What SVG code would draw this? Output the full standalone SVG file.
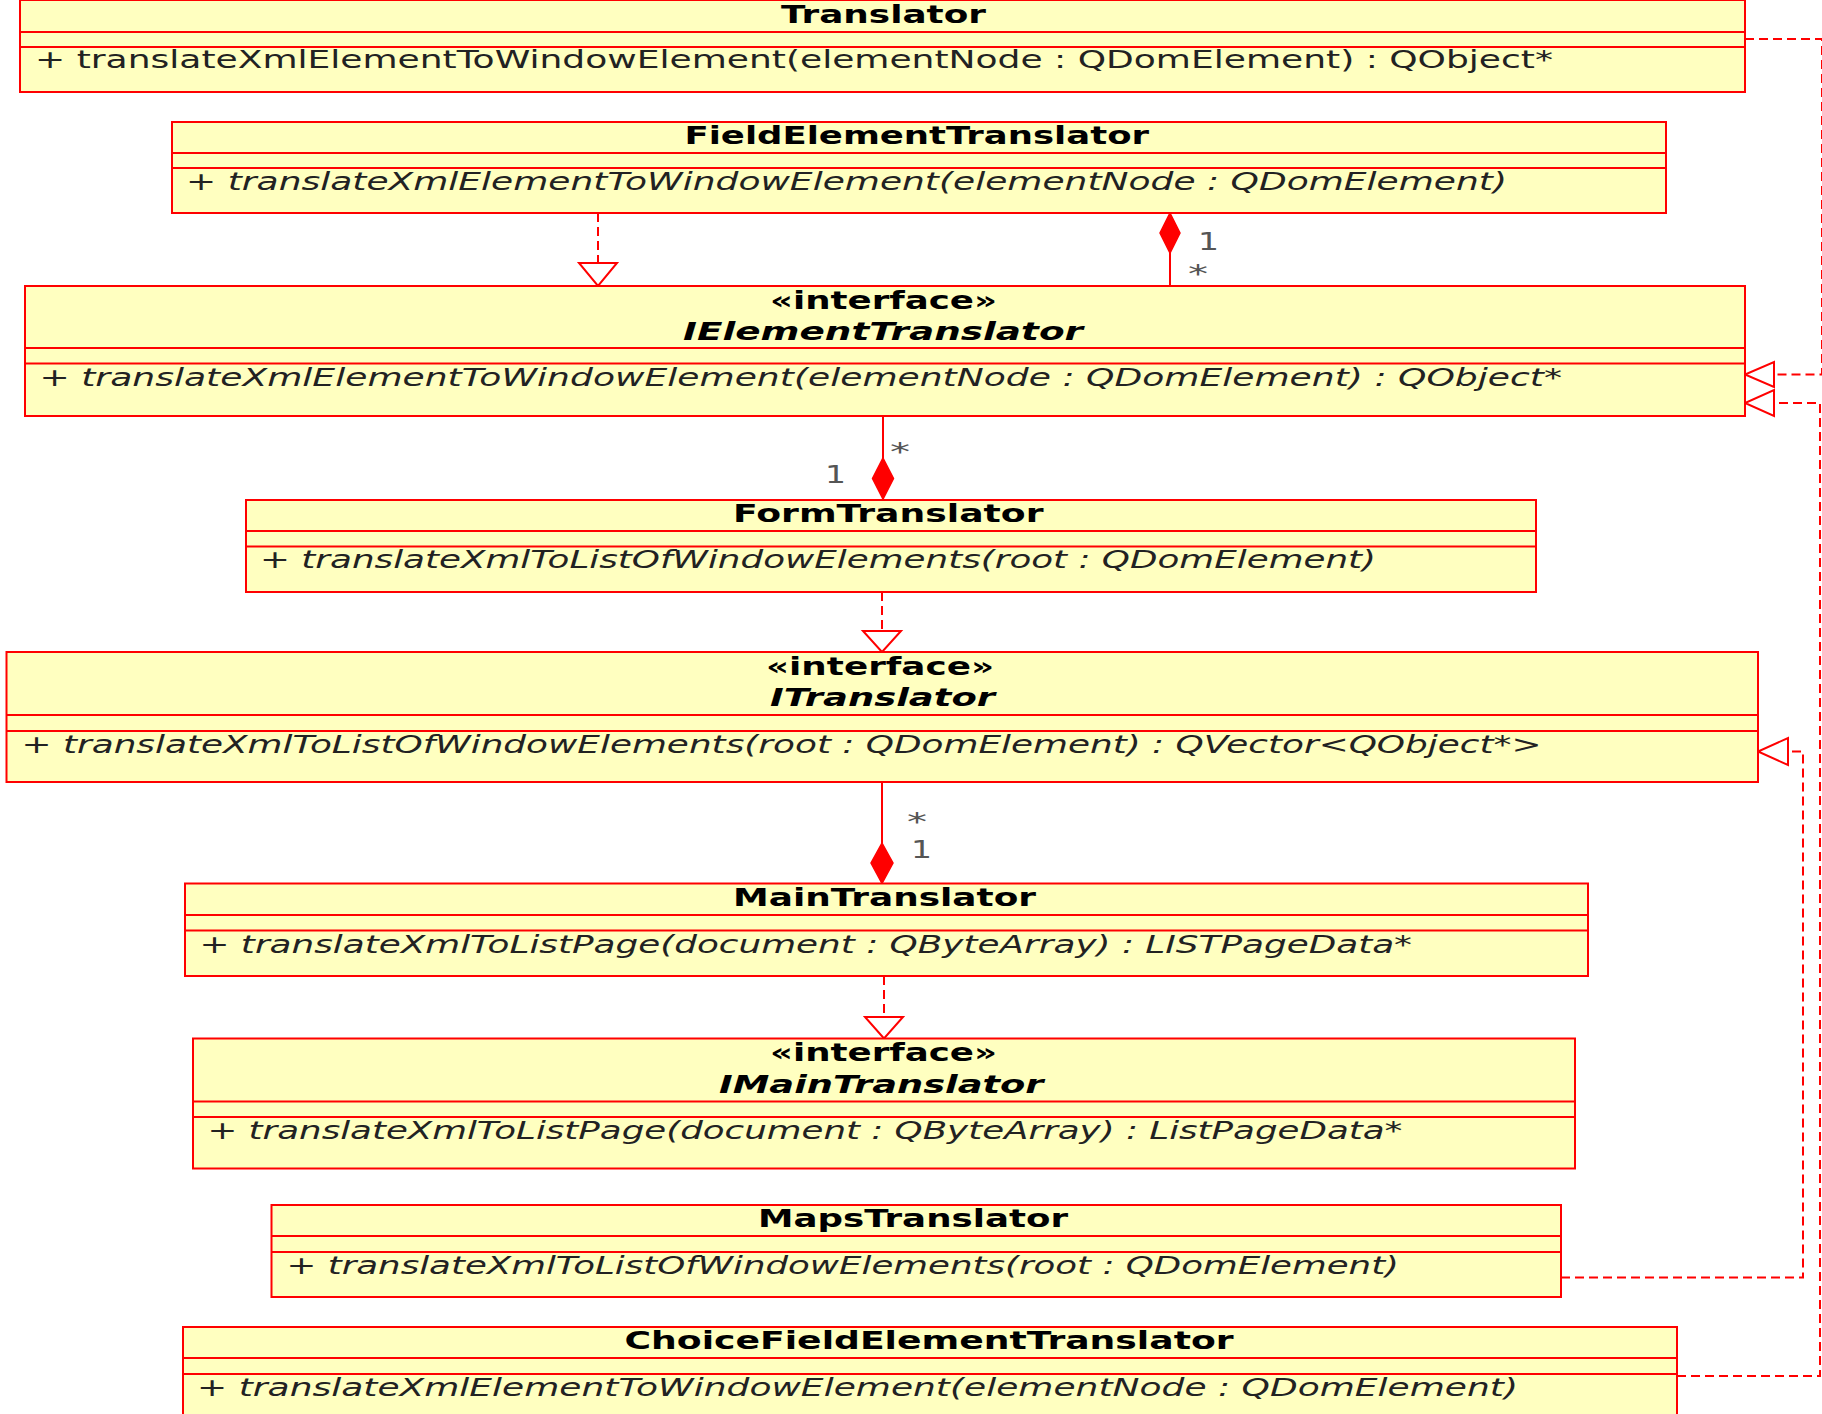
<svg xmlns="http://www.w3.org/2000/svg" width="1822" height="1414" viewBox="0 0 1822 1414">
<style>
  .box { fill: #ffffc0; stroke: #ff0000; stroke-width: 2; }
  .sep { stroke: #ff0000; stroke-width: 2; }
  .title { font-family: "DejaVu Sans", Verdana, sans-serif; font-size: 25px; font-weight: bold; fill: #000; }
  .ititle { font-family: "DejaVu Sans", Verdana, sans-serif; font-size: 25px; font-weight: bold; font-style: italic; fill: #000; }
  .op { font-family: "DejaVu Sans", Verdana, sans-serif; font-size: 25px; fill: #222; }
  .iop { font-family: "DejaVu Sans", Verdana, sans-serif; font-size: 25px; font-style: italic; fill: #222; }
  .dash { fill: none; stroke: #ff0000; stroke-width: 2; stroke-dasharray: 9 5; }
  .solid { fill: none; stroke: #ff0000; stroke-width: 2; }
  .hollow { fill: #ffffff; stroke: #ff0000; stroke-width: 2; }
  .filled { fill: #ff0000; stroke: #ff0000; stroke-width: 1.5; }
  .mult { font-family: "DejaVu Sans", Verdana, sans-serif; font-size: 25px; fill: #555; }
</style>
<rect width="1822" height="1414" fill="#ffffff"/>

<g id="connectors">
  <!-- FieldElementTranslator realizes IElementTranslator -->
  <line class="dash" x1="598" y1="213" x2="598" y2="263"/>
  <polygon class="hollow" points="579,263 617,263 598,286"/>
  <!-- IElementTranslator composed into FieldElementTranslator -->
  <line class="solid" x1="1170" y1="286" x2="1170" y2="253"/>
  <polygon class="filled" points="1170,213 1180,233 1170,253 1160,233"/>
  <text class="mult" x="1198" y="250" textLength="21" lengthAdjust="spacingAndGlyphs">1</text>
  <text class="mult" x="1188" y="282" textLength="20" lengthAdjust="spacingAndGlyphs">*</text>
  <!-- IElementTranslator composed into FormTranslator -->
  <line class="solid" x1="883" y1="416" x2="883" y2="458"/>
  <polygon class="filled" points="883,458 893.5,478.5 883,499 872.5,478.5"/>
  <text class="mult" x="890" y="460" textLength="20" lengthAdjust="spacingAndGlyphs">*</text>
  <text class="mult" x="825" y="483" textLength="21" lengthAdjust="spacingAndGlyphs">1</text>
  <!-- FormTranslator realizes ITranslator -->
  <line class="dash" x1="882" y1="592" x2="882" y2="631"/>
  <polygon class="hollow" points="863,631 901,631 882,652"/>
  <!-- ITranslator composed into MainTranslator -->
  <line class="solid" x1="882" y1="782" x2="882" y2="843"/>
  <polygon class="filled" points="882,843 893,863 882,883.5 871,863"/>
  <text class="mult" x="907" y="830" textLength="20" lengthAdjust="spacingAndGlyphs">*</text>
  <text class="mult" x="911" y="858" textLength="21" lengthAdjust="spacingAndGlyphs">1</text>
  <!-- MainTranslator realizes IMainTranslator -->
  <line class="dash" x1="884" y1="976" x2="884" y2="1017"/>
  <polygon class="hollow" points="865,1017 903,1017 884,1038.5"/>
  <!-- Translator realizes IElementTranslator -->
  <path class="dash" d="M1745,39 H1822 V374.5 H1774"/>
  <polygon class="hollow" points="1774,362 1774,387 1745,374.5"/>
  <!-- ChoiceFieldElementTranslator realizes IElementTranslator -->
  <path class="dash" d="M1677,1376 H1820 V403 H1774"/>
  <polygon class="hollow" points="1774,390 1774,416 1745,403"/>
  <!-- MapsTranslator realizes ITranslator -->
  <path class="dash" d="M1561,1277.5 H1803 V751.5 H1788"/>
  <polygon class="hollow" points="1788,738 1788,765 1758,751.5"/>
</g>

<g id="Translator">
  <rect class="box" x="20" y="0" width="1725" height="92"/>
  <line class="sep" x1="20" y1="32" x2="1745" y2="32"/>
  <line class="sep" x1="20" y1="47" x2="1745" y2="47"/>
  <text class="title" x="781" y="23" textLength="205" lengthAdjust="spacingAndGlyphs">Translator</text>
  <text class="op" x="35" y="68" textLength="1518" lengthAdjust="spacingAndGlyphs">+ translateXmlElementToWindowElement(elementNode : QDomElement) : QObject*</text>
</g>

<g id="FieldElementTranslator">
  <rect class="box" x="172" y="122" width="1494" height="91"/>
  <line class="sep" x1="172" y1="153" x2="1666" y2="153"/>
  <line class="sep" x1="172" y1="168" x2="1666" y2="168"/>
  <text class="title" x="684.5" y="143.5" textLength="464.5" lengthAdjust="spacingAndGlyphs">FieldElementTranslator</text>
  <text class="iop" x="186" y="190" textLength="1321" lengthAdjust="spacingAndGlyphs">+ translateXmlElementToWindowElement(elementNode : QDomElement)</text>
</g>

<g id="IElementTranslator">
  <rect class="box" x="25" y="286" width="1720" height="130"/>
  <line class="sep" x1="25" y1="348" x2="1745" y2="348"/>
  <line class="sep" x1="25" y1="363.5" x2="1745" y2="363.5"/>
  <text class="title" x="770" y="308.5" textLength="227" lengthAdjust="spacingAndGlyphs">«interface»</text>
  <text class="ititle" x="683" y="340" textLength="400" lengthAdjust="spacingAndGlyphs">IElementTranslator</text>
  <text class="iop" x="39.5" y="386" textLength="1522.5" lengthAdjust="spacingAndGlyphs">+ translateXmlElementToWindowElement(elementNode : QDomElement) : QObject*</text>
</g>

<g id="FormTranslator">
  <rect class="box" x="246" y="500" width="1290" height="92"/>
  <line class="sep" x1="246" y1="531" x2="1536" y2="531"/>
  <line class="sep" x1="246" y1="546.5" x2="1536" y2="546.5"/>
  <text class="title" x="733" y="521.5" textLength="310.5" lengthAdjust="spacingAndGlyphs">FormTranslator</text>
  <text class="iop" x="260" y="568" textLength="1116" lengthAdjust="spacingAndGlyphs">+ translateXmlToListOfWindowElements(root : QDomElement)</text>
</g>

<g id="ITranslator">
  <rect class="box" x="6.5" y="652" width="1751.5" height="130"/>
  <line class="sep" x1="6.5" y1="715" x2="1758" y2="715"/>
  <line class="sep" x1="6.5" y1="731" x2="1758" y2="731"/>
  <text class="title" x="766" y="674.5" textLength="228" lengthAdjust="spacingAndGlyphs">«interface»</text>
  <text class="ititle" x="770" y="706" textLength="225" lengthAdjust="spacingAndGlyphs">ITranslator</text>
  <text class="iop" x="21.5" y="752.5" textLength="1520" lengthAdjust="spacingAndGlyphs">+ translateXmlToListOfWindowElements(root : QDomElement) : QVector&lt;QObject*&gt;</text>
</g>

<g id="MainTranslator">
  <rect class="box" x="185" y="883.5" width="1403" height="92.5"/>
  <line class="sep" x1="185" y1="915" x2="1588" y2="915"/>
  <line class="sep" x1="185" y1="930.5" x2="1588" y2="930.5"/>
  <text class="title" x="733" y="905.5" textLength="303" lengthAdjust="spacingAndGlyphs">MainTranslator</text>
  <text class="iop" x="199.5" y="952.5" textLength="1212.5" lengthAdjust="spacingAndGlyphs">+ translateXmlToListPage(document : QByteArray) : LISTPageData*</text>
</g>

<g id="IMainTranslator">
  <rect class="box" x="193" y="1038.5" width="1382" height="130"/>
  <line class="sep" x1="193" y1="1101.5" x2="1575" y2="1101.5"/>
  <line class="sep" x1="193" y1="1117" x2="1575" y2="1117"/>
  <text class="title" x="770" y="1061" textLength="227" lengthAdjust="spacingAndGlyphs">«interface»</text>
  <text class="ititle" x="719" y="1093" textLength="324.5" lengthAdjust="spacingAndGlyphs">IMainTranslator</text>
  <text class="iop" x="207.4" y="1138.5" textLength="1195" lengthAdjust="spacingAndGlyphs">+ translateXmlToListPage(document : QByteArray) : ListPageData*</text>
</g>

<g id="MapsTranslator">
  <rect class="box" x="271.5" y="1205" width="1289.5" height="92"/>
  <line class="sep" x1="271.5" y1="1236" x2="1561" y2="1236"/>
  <line class="sep" x1="271.5" y1="1252" x2="1561" y2="1252"/>
  <text class="title" x="758" y="1226.5" textLength="310" lengthAdjust="spacingAndGlyphs">MapsTranslator</text>
  <text class="iop" x="286.5" y="1273.5" textLength="1112.5" lengthAdjust="spacingAndGlyphs">+ translateXmlToListOfWindowElements(root : QDomElement)</text>
</g>

<g id="ChoiceFieldElementTranslator">
  <rect class="box" x="183" y="1327" width="1494" height="92"/>
  <line class="sep" x1="183" y1="1358" x2="1677" y2="1358"/>
  <line class="sep" x1="183" y1="1374" x2="1677" y2="1374"/>
  <text class="title" x="624.6" y="1348.5" textLength="609" lengthAdjust="spacingAndGlyphs">ChoiceFieldElementTranslator</text>
  <text class="iop" x="197" y="1395.5" textLength="1321" lengthAdjust="spacingAndGlyphs">+ translateXmlElementToWindowElement(elementNode : QDomElement)</text>
</g>
</svg>
